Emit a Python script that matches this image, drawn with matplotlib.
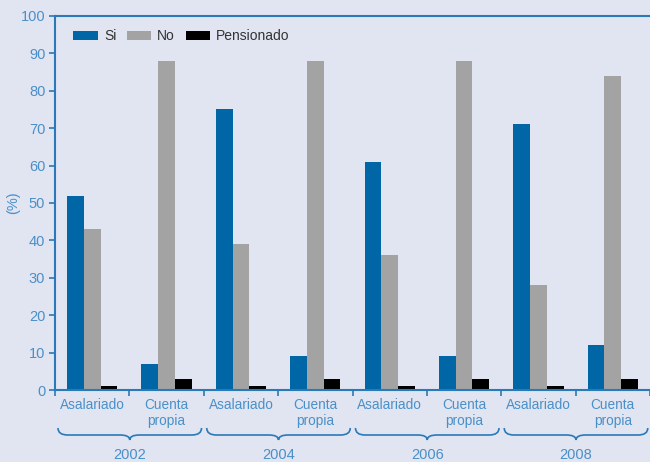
import matplotlib.pyplot as plt
import numpy as np
from matplotlib.path import Path
from matplotlib.patches import PathPatch
import matplotlib.transforms as mtransforms

# ==============================================
# DADOS
# ==============================================
anos = ["2002", "2004", "2006", "2008"]
tipos = ["Asalariado", "Cuenta\npropia"]
si = [52, 7, 75, 9, 61, 9, 71, 12]
no = [43, 88, 39, 88, 36, 88, 28, 84]
pensionado = [1, 3, 1, 3, 1, 3, 1, 3]

# ==============================================
# ESTILO
# ==============================================
fundo = "#e1e4f1"
azul = "#0066a6"
cinza = "#a3a3a3"
preto = "#000000"
linha = "#2a7ab8"
texto = "#4a90c8"
plt.rcParams["font.family"] = ["Liberation Sans", "DejaVu Sans"]

fig = plt.figure(figsize=(6.5, 4.62), dpi=100, facecolor=fundo)
ax = fig.add_axes([55 / 650, 72 / 462, 595 / 650, 374 / 462], facecolor=fundo)

n = len(si)
x = np.arange(n) + 0.5
w = 0.225
ax.bar(x - w, si, w, color=azul, label="Si")
ax.bar(x, no, w, color=cinza, label="No")
ax.bar(x + w, pensionado, w, color=preto, label="Pensionado")

ax.set_xlim(0, 595 / 75.3)
ax.set_ylim(0, 100)
ax.set_yticks(range(0, 101, 10))
ax.set_xticks(range(0, n + 1))
ax.set_xticklabels([])
ax.set_xticks(x, minor=True)
ax.set_xticklabels(tipos * len(anos), minor=True, linespacing=1.15)
ax.tick_params(axis="x", which="minor", length=0, pad=6, labelsize=9.8, colors=texto)
ax.tick_params(axis="x", which="major", length=4, width=1.2, direction="out", color=linha)
ax.tick_params(axis="y", length=4, width=1.2, direction="out", color=linha,
               labelsize=10.5, labelcolor=texto, pad=3)

for lado in ["left", "bottom", "top"]:
    ax.spines[lado].set_color(linha)
    ax.spines[lado].set_linewidth(1.5)
ax.spines["right"].set_visible(False)

ax.set_ylabel("(%)", color=texto, fontsize=10.5)
ax.yaxis.set_label_coords(-35 / 595, 0.5)

leg = ax.legend(loc="upper left", bbox_to_anchor=(0.010, 0.998), ncol=3, frameon=False,
                handlelength=1.75, handleheight=0.6, handletextpad=0.45,
                columnspacing=0.75, fontsize=10)
for t in leg.get_texts():
    t.set_color("#333333")

# chaves e anos abaixo dos rótulos
trans = mtransforms.blended_transform_factory(ax.transData, fig.transFigure)
y_top = 1 - 428 / 462
y_bot = 1 - 435 / 462
y_tip = 1 - 440 / 462
d = 0.13
for i, ano in enumerate(anos):
    x0 = 2 * i + 0.04
    x1 = 2 * i + 2 - 0.03
    m = (x0 + x1) / 2
    verts = [(x0, y_top), (x0, y_bot), (x0 + d, y_bot),
             (m - d, y_bot), (m, y_bot), (m, y_tip),
             (m, y_bot), (m + d, y_bot),
             (x1 - d, y_bot), (x1, y_bot), (x1, y_top)]
    codes = [Path.MOVETO, Path.CURVE3, Path.CURVE3,
             Path.LINETO, Path.CURVE3, Path.CURVE3,
             Path.CURVE3, Path.CURVE3,
             Path.LINETO, Path.CURVE3, Path.CURVE3]
    ax.add_patch(PathPatch(Path(verts, codes), transform=trans, fill=False,
                           edgecolor=linha, lw=1.2, clip_on=False))
    ax.text(m, 1 - 455 / 462, ano, transform=trans, ha="center", va="center",
            color=texto, fontsize=10.5)

fig.savefig("out.png", dpi=100, facecolor=fundo)
